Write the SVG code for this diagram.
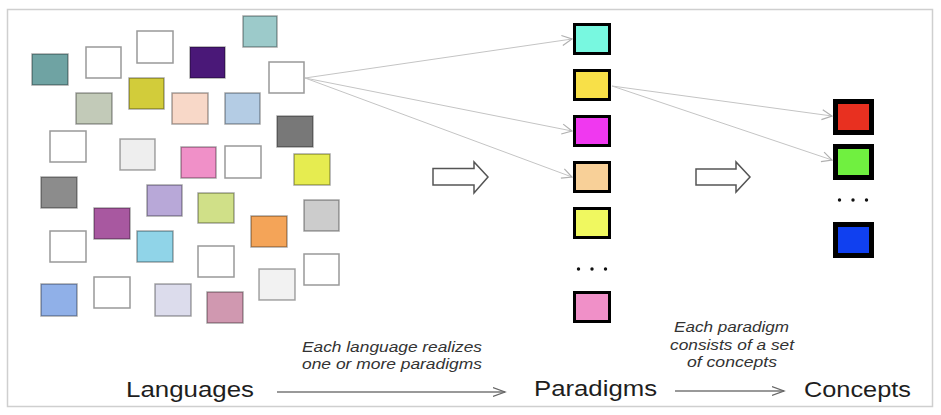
<svg xmlns="http://www.w3.org/2000/svg" width="941" height="415" viewBox="0 0 941 415">
<style>
.lang{stroke:#000;stroke-opacity:0.35;stroke-width:1.5}
.w{fill:#ffffff;stroke:#999;stroke-opacity:1}
.par{stroke:#000;stroke-width:3}
.con{stroke:#000;stroke-width:5}
.conn{stroke:#c4c4c4;stroke-width:1;fill:none}
.big{font-family:"Liberation Sans",Arial,sans-serif;font-size:21.5px;fill:#1e1e1e}
.it{font-family:"Liberation Sans",Arial,sans-serif;font-size:14.5px;font-style:italic;fill:#333}
.hollow{fill:#fff;stroke:#555;stroke-width:1.5}
.dot{fill:#111}
</style>
<defs>
<marker id="ah" markerUnits="userSpaceOnUse" markerWidth="14" markerHeight="14" refX="11" refY="6" orient="auto" viewBox="0 0 14 12">
<path d="M1,1 L11,6 L1,11" fill="none" stroke="#b0b0b0" stroke-width="1.2"/>
</marker>
<marker id="ah2" markerUnits="userSpaceOnUse" markerWidth="14" markerHeight="12" refX="12" refY="5" orient="auto" viewBox="0 0 14 10">
<path d="M0,0.5 L12,5 L0,9.5" fill="none" stroke="#666" stroke-width="1.3"/>
</marker>
</defs>
<rect x="7.5" y="9.5" width="925" height="397" fill="#fff" stroke="#cfcfcf" stroke-width="1.5"/>

<g id="languages">
<rect class="lang" x="32" y="54" width="36" height="31" fill="#6fa3a3"/>
<rect class="lang w" x="86" y="47" width="35" height="31"/>
<rect class="lang w" x="137" y="31" width="36" height="32"/>
<rect class="lang" x="190" y="47" width="35" height="31" fill="#4a1878"/>
<rect class="lang" x="243" y="16" width="34" height="31" fill="#9ccaca"/>
<rect id="lang-source" class="lang w" x="269" y="62" width="35" height="31"/>
<rect class="lang" x="76" y="93" width="36" height="31" fill="#c2cab8"/>
<rect class="lang" x="129" y="78" width="35" height="31" fill="#d2cc3a"/>
<rect class="lang" x="172" y="93" width="36" height="31" fill="#f8d8c8"/>
<rect class="lang" x="225" y="93" width="35" height="31" fill="#b4cce4"/>
<rect class="lang" x="277" y="116" width="36" height="31" fill="#787878"/>
<rect class="lang w" x="50" y="131" width="36" height="31"/>
<rect class="lang" x="120" y="139" width="35" height="31" fill="#eeeeee"/>
<rect class="lang" x="181" y="147" width="35" height="31" fill="#f090c8"/>
<rect class="lang w" x="225" y="146" width="36" height="32"/>
<rect class="lang" x="294" y="154" width="36" height="31" fill="#e6ec50"/>
<rect class="lang" x="41" y="177" width="36" height="31" fill="#8c8c8c"/>
<rect class="lang" x="147" y="185" width="35" height="31" fill="#b8a8d8"/>
<rect class="lang" x="198" y="193" width="36" height="30" fill="#d0e088"/>
<rect class="lang" x="304" y="200" width="35" height="31" fill="#cccccc"/>
<rect class="lang" x="94" y="208" width="36" height="31" fill="#a858a0"/>
<rect class="lang" x="251" y="216" width="36" height="31" fill="#f4a458"/>
<rect class="lang w" x="50" y="231" width="36" height="31"/>
<rect class="lang" x="137" y="231" width="36" height="31" fill="#90d4e8"/>
<rect class="lang w" x="198" y="246" width="36" height="31"/>
<rect class="lang w" x="304" y="254" width="35" height="31"/>
<rect class="lang" x="259" y="269" width="36" height="31" fill="#f2f2f2"/>
<rect class="lang w" x="94" y="277" width="36" height="31"/>
<rect class="lang" x="41" y="284" width="36" height="32" fill="#90b0e8"/>
<rect class="lang" x="155" y="284" width="36" height="32" fill="#dcdcec"/>
<rect class="lang" x="207" y="292" width="36" height="31" fill="#d098b0"/>
</g>

<g id="paradigms">
<rect class="par" x="574.5" y="24.5" width="35" height="29" fill="#78f8e0"/>
<rect class="par" x="574.5" y="70.5" width="35" height="29" fill="#f8e048"/>
<rect class="par" x="574.5" y="116.5" width="35" height="29" fill="#f038f0"/>
<rect class="par" x="574.5" y="162.5" width="35" height="29" fill="#f8d098"/>
<rect class="par" x="574.5" y="208.5" width="35" height="29" fill="#f0f860"/>
<circle class="dot" cx="578.5" cy="269" r="1.7"/>
<circle class="dot" cx="592" cy="269" r="1.7"/>
<circle class="dot" cx="605.5" cy="269" r="1.7"/>
<rect class="par" x="574.5" y="292.5" width="35" height="29" fill="#f090c8"/>
</g>

<g id="concepts">
<rect class="con" x="835.5" y="101.5" width="36" height="31" fill="#e83020"/>
<rect class="con" x="835.5" y="146.5" width="36" height="31" fill="#70f040"/>
<circle class="dot" cx="839.5" cy="200" r="1.7"/>
<circle class="dot" cx="853" cy="200" r="1.7"/>
<circle class="dot" cx="866.5" cy="200" r="1.7"/>
<rect class="con" x="835.5" y="224.5" width="36" height="31" fill="#1040f0"/>
</g>

<g id="connectors">
<line class="conn" x1="305" y1="78" x2="572" y2="39" marker-end="url(#ah)"/>
<line class="conn" x1="305" y1="78" x2="572" y2="131" marker-end="url(#ah)"/>
<line class="conn" x1="305" y1="78" x2="572" y2="177" marker-end="url(#ah)"/>
<line class="conn" x1="612" y1="86" x2="832" y2="116" marker-end="url(#ah)"/>
<line class="conn" x1="612" y1="86" x2="832" y2="160" marker-end="url(#ah)"/>
<polygon class="hollow" points="433,168.5 474,168.5 474,162 488,177 474,193 474,185 433,185"/>
<polygon class="hollow" points="696,169 736,169 736,162 750,177 736,192 736,185 696,185"/>
<line x1="277" y1="392" x2="505" y2="392" stroke="#777" stroke-width="1.3" marker-end="url(#ah2)"/>
<line x1="675" y1="391" x2="784" y2="391" stroke="#777" stroke-width="1.3" marker-end="url(#ah2)"/>
</g>

<g id="labels">
<text class="big" x="126" y="397" textLength="128" lengthAdjust="spacingAndGlyphs">Languages</text>
<text class="big" x="534" y="396" textLength="123" lengthAdjust="spacingAndGlyphs">Paradigms</text>
<text class="big" x="804" y="397" textLength="107" lengthAdjust="spacingAndGlyphs">Concepts</text>
<text class="it" x="302" y="352" textLength="180" lengthAdjust="spacingAndGlyphs">Each language realizes</text>
<text class="it" x="302" y="369" textLength="180" lengthAdjust="spacingAndGlyphs">one or more paradigms</text>
<text class="it" x="674" y="332" textLength="115" lengthAdjust="spacingAndGlyphs">Each paradigm</text>
<text class="it" x="670" y="350" textLength="124" lengthAdjust="spacingAndGlyphs">consists of a set</text>
<text class="it" x="687" y="367" textLength="90" lengthAdjust="spacingAndGlyphs">of concepts</text>
</g>
</svg>
